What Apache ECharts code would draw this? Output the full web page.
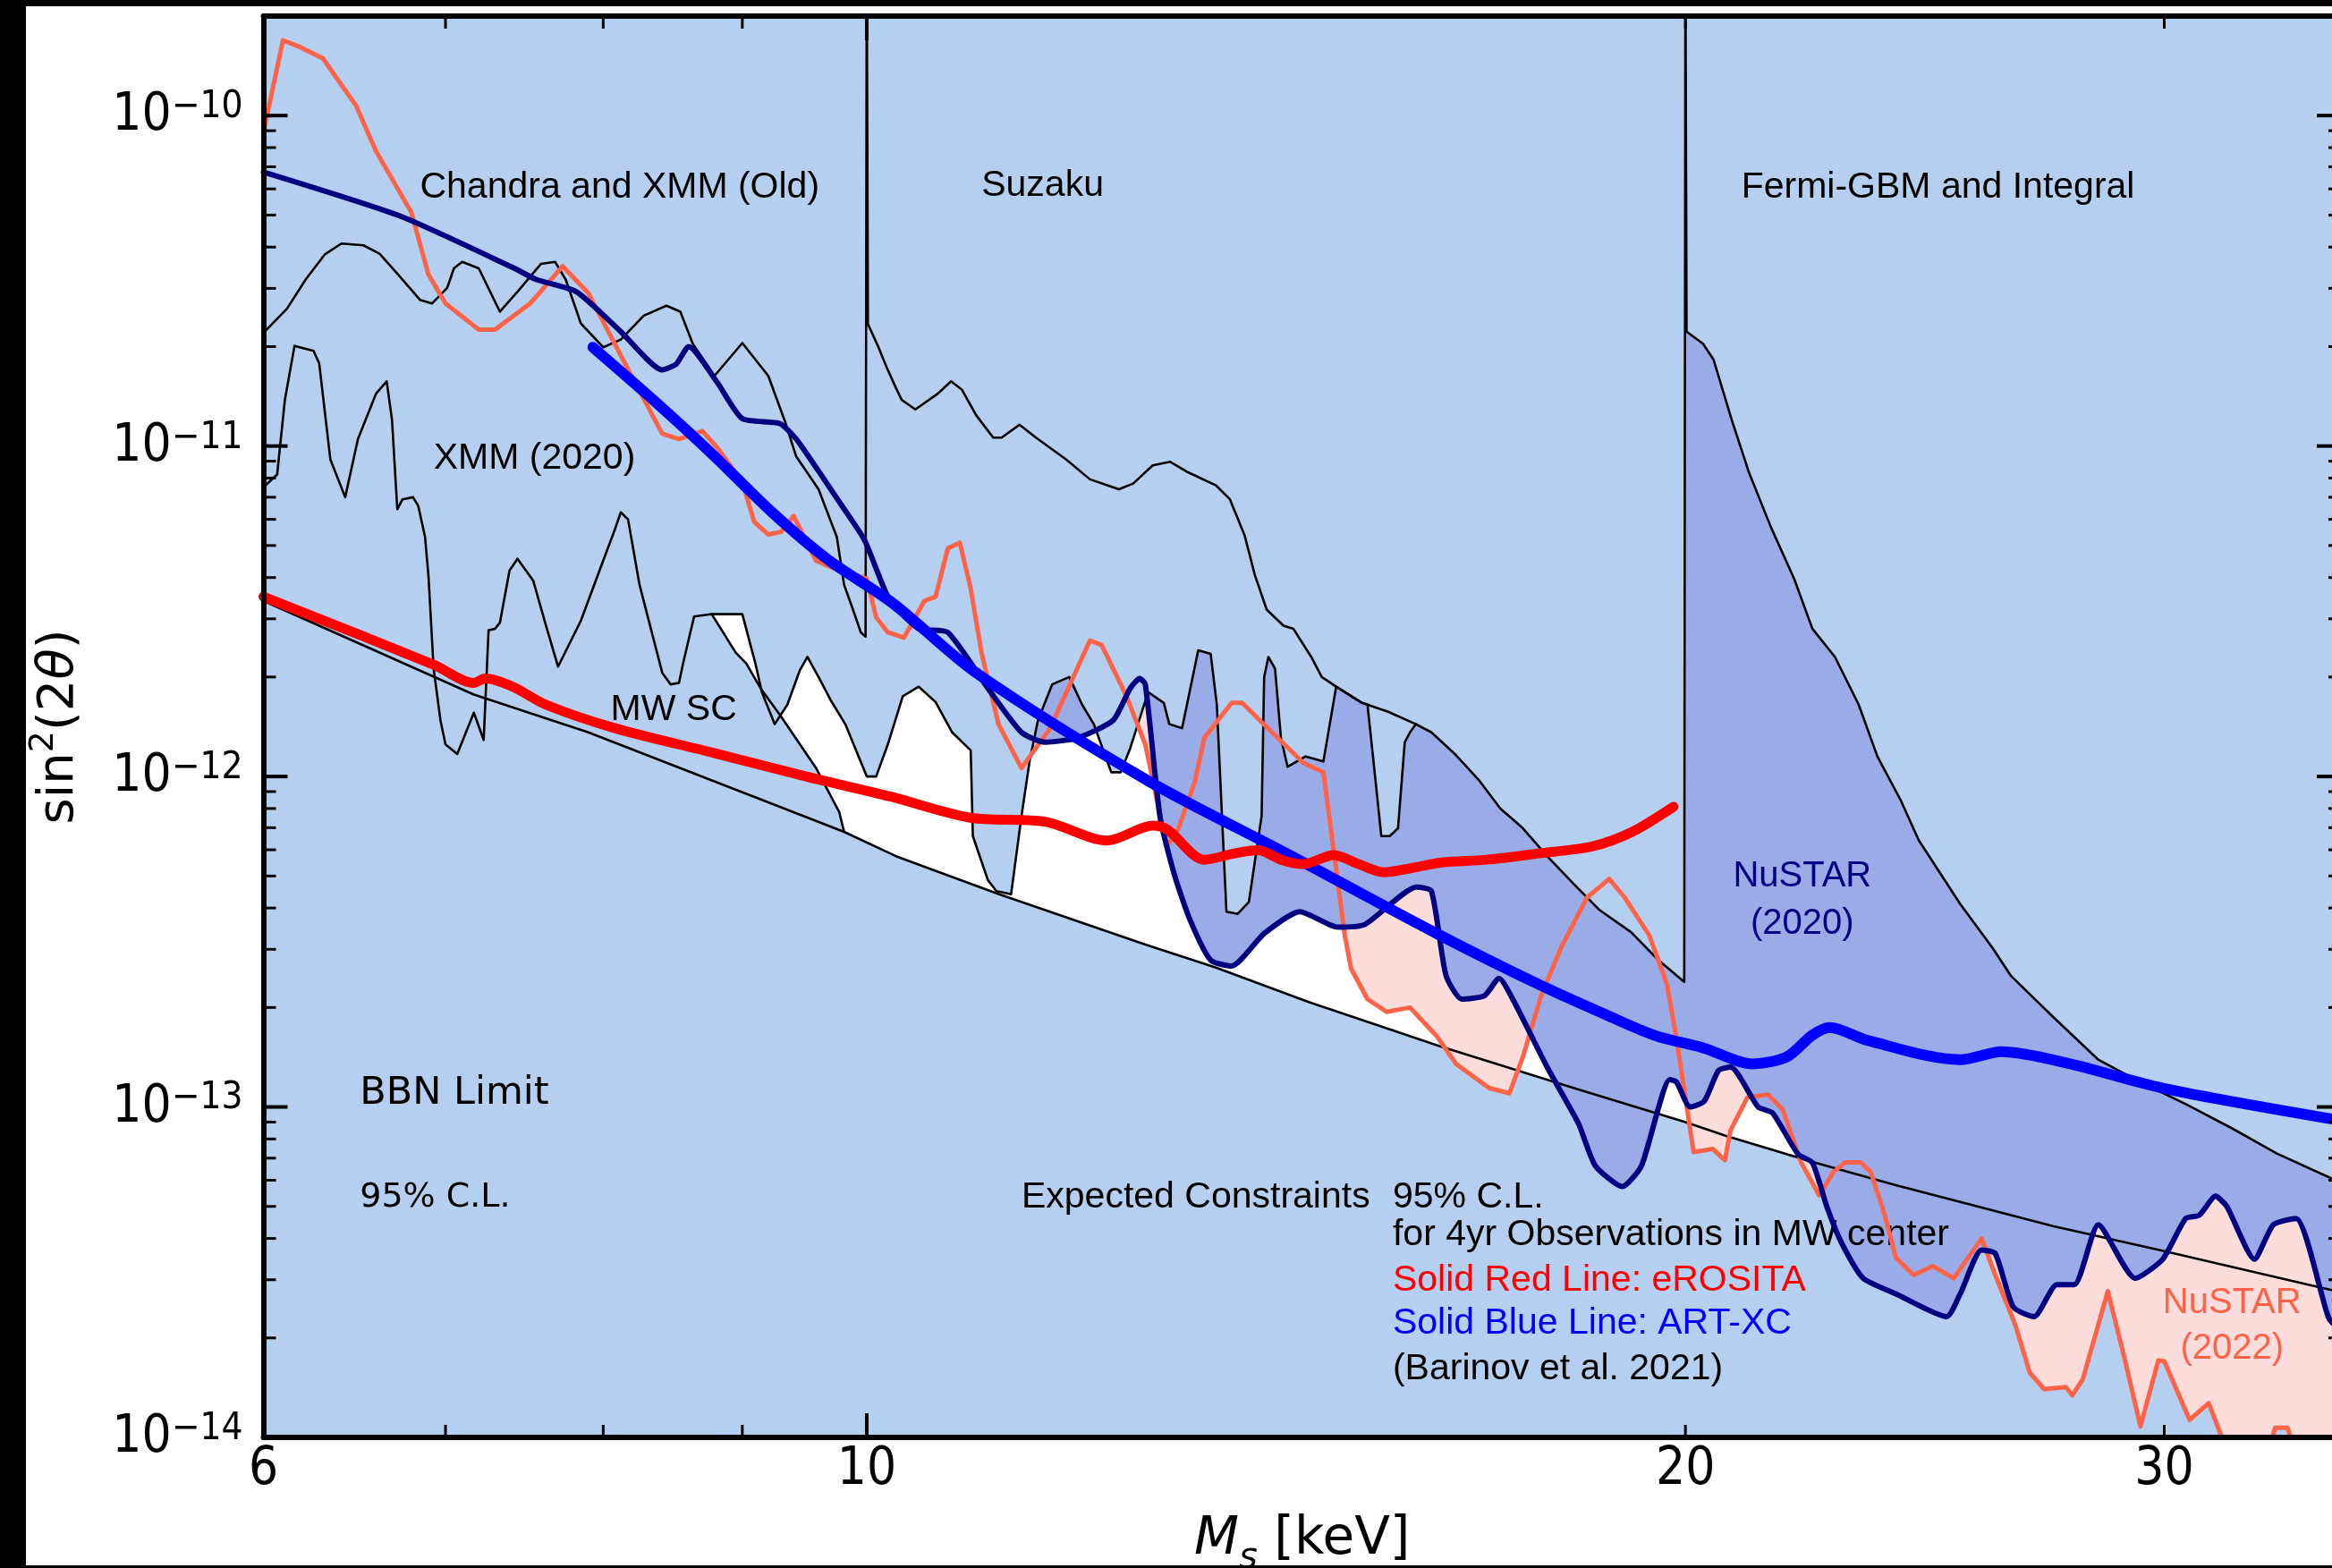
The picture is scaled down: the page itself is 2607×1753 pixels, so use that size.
<!DOCTYPE html>
<html>
<head>
<meta charset="utf-8">
<script src="https://cdn.jsdelivr.net/npm/echarts@6/dist/echarts.min.js"></script>
<style>
html, body { margin:0; padding:0; width:2607px; height:1753px; overflow:hidden; background:#fff; }
#chart { position:absolute; left:0; top:0; width:2640px; height:1753px; }
</style>
</head>
<body>
<div id="chart"></div>
<script>
// ---------------- axis ranges ----------------
const X_MIN = 6, X_MAX = 34.84, Y_MIN = 1e-14, Y_MAX = 2e-10;

// ---------------- data (M_s in keV, sin^2(2theta)) ----------------
const bbnLimit = [[6,3.4e-12],[7.17,1.77e-12],[7.9,1.36e-12],[8.78,9.7e-13],[9.81,6.8e-13],[10.25,5.74e-13],[11.18,4.41e-13],[12.66,3.1e-13],[13.44,2.64e-13],[14.53,2.08e-13],[16.23,1.53e-13],[18.2,1.14e-13],[20,9.0e-14],[20.68,8.2e-14],[22.3,6.8e-14],[23.9,5.8e-14],[27.3,4.36e-14],[30,3.66e-14],[34.84,2.75e-14]];

const mwSatelliteCounts = [[8.77,3.1e-12],[8.95,2.37e-12],[9.03,2.2e-12],[9.14,1.85e-12],[9.3,1.52e-12],[9.58,1.06e-12],[9.77,7.8e-13],[9.81,6.8e-13]];

const xmm2020 = [[6,7.5e-12],[6.07,8.2e-12],[6.11,1.38e-11],[6.16,2.01e-11],[6.26,1.94e-11],[6.29,1.78e-11],[6.35,9.1e-12],[6.43,7.0e-12],[6.5,1.05e-11],[6.6,1.44e-11],[6.66,1.57e-11],[6.69,1.2e-11],[6.72,6.44e-12],[6.75,6.9e-12],[6.81,7.0e-12],[6.84,6.6e-12],[6.88,5.3e-12],[6.9,4.03e-12],[6.93,2.12e-12],[6.97,1.48e-12],[7.0,1.25e-12],[7.07,1.17e-12],[7.17,1.56e-12],[7.23,1.29e-12],[7.26,2.77e-12],[7.3,2.8e-12],[7.33,2.92e-12],[7.39,4.2e-12],[7.44,4.56e-12],[7.54,3.91e-12],[7.62,2.88e-12],[7.7,2.15e-12],[7.85,2.96e-12],[8.0,4.5e-12],[8.08,5.6e-12],[8.12,6.3e-12],[8.17,6.0e-12],[8.25,3.8e-12],[8.41,2.06e-12],[8.47,1.9e-12],[8.53,1.92e-12],[8.56,2.2e-12],[8.64,3.05e-12],[8.77,3.1e-12],[9.0,3.1e-12],[9.1,2.2e-12],[9.15,1.8e-12],[9.25,1.44e-12],[9.35,1.65e-12],[9.45,2.1e-12],[9.51,2.3e-12],[9.6,2.0e-12],[9.7,1.7e-12],[9.82,1.44e-12],[10.0,1.0e-12],[10.08,1.0e-12],[10.18,1.25e-12],[10.31,1.75e-12],[10.45,1.87e-12],[10.6,1.68e-12],[10.75,1.36e-12],[10.92,1.2e-12],[10.94,6.6e-13],[11.08,4.86e-13],[11.16,4.5e-13],[11.3,4.4e-13],[11.4,7.6e-13],[11.48,1.12e-12],[11.56,1.48e-12],[11.7,1.9e-12],[11.87,2.0e-12],[12.0,1.65e-12],[12.12,1.44e-12],[12.3,1.03e-12],[12.4,1.03e-12],[12.5,1.22e-12],[12.69,1.8e-12],[12.86,1.67e-12],[12.92,1.44e-12],[13.06,1.4e-12],[13.24,2.41e-12],[13.38,2.35e-12],[13.45,1.65e-12],[13.56,3.9e-13],[13.69,3.84e-13],[13.82,4.17e-13],[13.97,7.6e-13],[14.0,2.0e-12],[14.05,2.3e-12],[14.13,2.12e-12],[14.2,1.31e-12],[14.28,1.07e-12],[14.5,1.15e-12],[14.72,1.11e-12],[14.88,1.87e-12],[15.21,1.67e-12],[15.28,1.65e-12],[15.39,9.46e-13],[15.46,6.6e-13],[15.57,6.6e-13],[15.68,6.97e-13],[15.77,1.27e-12],[15.84,1.36e-12],[15.92,1.44e-12]];

// Chandra and XMM (Old) | Suzaku | Fermi-GBM and Integral
const oldConstraints = [[6,2.2e-11],[6.12,2.6e-11],[6.22,3.2e-11],[6.32,3.8e-11],[6.41,4.1e-11],[6.53,4.05e-11],[6.62,3.82e-11],[6.73,3.28e-11],[6.85,2.77e-11],[6.92,2.7e-11],[7.01,3.01e-11],[7.05,3.45e-11],[7.1,3.61e-11],[7.2,3.45e-11],[7.33,2.55e-11],[7.44,2.93e-11],[7.59,3.56e-11],[7.68,3.61e-11],[7.75,3.19e-11],[7.85,2.35e-11],[8.0,1.99e-11],[8.12,2.1e-11],[8.28,2.48e-11],[8.44,2.66e-11],[8.54,2.55e-11],[8.63,2.04e-11],[8.79,1.63e-11],[9.0,2.05e-11],[9.2,1.63e-11],[9.33,1.19e-11],[9.42,9.3e-12],[9.6,7.4e-12],[9.75,5.3e-12],[9.81,3.8e-12],[9.88,3.23e-12],[9.95,2.73e-12],[9.99,2.65e-12],[10.0,3e-10],[10.01,2.34e-11],[10.1,1.99e-11],[10.17,1.73e-11],[10.25,1.5e-11],[10.3,1.38e-11],[10.42,1.29e-11],[10.62,1.44e-11],[10.74,1.57e-11],[10.84,1.48e-11],[10.97,1.24e-11],[11.13,1.06e-11],[11.21,1.06e-11],[11.38,1.16e-11],[11.54,1.06e-11],[11.84,9.1e-12],[12.08,7.93e-12],[12.38,7.4e-12],[12.53,7.7e-12],[12.74,8.74e-12],[12.93,8.96e-12],[13.11,8.37e-12],[13.44,7.6e-12],[13.6,6.9e-12],[13.77,5.37e-12],[13.89,4.07e-12],[14.03,3.2e-12],[14.23,2.86e-12],[14.35,2.8e-12],[14.57,2.3e-12],[14.7,2.0e-12],[14.88,1.87e-12],[15.21,1.67e-12],[15.55,1.57e-12],[15.92,1.44e-12],[16.13,1.36e-12],[16.47,1.16e-12],[16.8,9.7e-13],[17.1,8.0e-13],[17.43,6.97e-13],[17.79,5.74e-13],[18.2,4.72e-13],[18.6,3.94e-13],[19.1,3.38e-13],[19.55,2.78e-13],[19.98,2.39e-13],[20.0,3e-10],[20.02,2.22e-11],[20.3,2.04e-11],[20.48,1.83e-11],[20.8,1.2e-11],[21.1,8.37e-12],[21.5,5.69e-12],[21.93,3.96e-12],[22.27,2.8e-12],[22.7,2.3e-12],[23.16,1.65e-12],[23.53,1.15e-12],[24.0,8.47e-13],[24.37,6.41e-13],[25.24,4.11e-13],[25.94,3.03e-13],[26.35,2.49e-13],[27.29,1.88e-13],[28.37,1.39e-13],[29.27,1.21e-13],[30.55,1.02e-13],[31.75,8.64e-14],[33.0,7.23e-14],[34.84,5.9e-14]];

const nustar2020 = [[6,6.75e-11],[6.73,4.98e-11],[7.41,3.47e-11],[7.56,3.19e-11],[7.82,2.93e-11],[8.12,2.22e-11],[8.41,1.70e-11],[8.51,1.77e-11],[8.6,2.0e-11],[8.81,1.56e-11],[9.0,1.21e-11],[9.29,1.17e-11],[9.42,1.05e-11],[9.6,8.4e-12],[9.8,6.53e-12],[9.98,5.2e-12],[10.13,3.84e-12],[10.2,3.4e-12],[10.45,2.8e-12],[10.71,2.73e-12],[11.08,1.85e-12],[11.4,1.36e-12],[11.63,1.27e-12],[11.96,1.31e-12],[12.32,1.48e-12],[12.5,1.85e-12],[12.6,1.98e-12],[12.66,1.9e-12],[12.82,7.5e-13],[12.98,5.0e-13],[13.15,3.67e-13],[13.38,2.78e-13],[13.62,2.67e-13],[14.0,3.35e-13],[14.43,3.9e-13],[14.9,3.5e-13],[15.25,3.57e-13],[15.93,4.63e-13],[16.13,4.5e-13],[16.33,2.5e-13],[16.55,2.12e-13],[16.87,2.17e-13],[17.08,2.45e-13],[17.3,2.08e-13],[17.79,1.32e-13],[18.27,8.9e-14],[18.53,6.64e-14],[18.96,5.74e-14],[19.27,6.64e-14],[19.74,1.21e-13],[19.85,1.19e-13],[20.08,1.0e-13],[20.32,1.04e-13],[20.57,1.29e-13],[20.78,1.32e-13],[21.27,1.0e-13],[21.53,9.6e-14],[22.0,7.2e-14],[22.27,6.78e-14],[22.55,4.96e-14],[22.83,3.87e-14],[23.25,3.03e-14],[23.9,2.72e-14],[24.95,2.32e-14],[25.24,2.72e-14],[25.7,3.69e-14],[26.0,3.6e-14],[26.4,2.48e-14],[26.87,2.32e-14],[27.39,2.9e-14],[27.8,2.9e-14],[28.37,4.4e-14],[29.27,3.03e-14],[29.96,3.46e-14],[30.55,4.6e-14],[30.9,4.7e-14],[31.33,5.37e-14],[31.63,5.0e-14],[32.38,3.46e-14],[32.9,4.4e-14],[33.54,4.6e-14],[34.48,2.3e-14],[34.84,2.1e-14]];

const nustar2022 = [[6,8.9e-11],[6.1,1.69e-10],[6.18,1.62e-10],[6.31,1.49e-10],[6.49,1.07e-10],[6.6,7.8e-11],[6.8,5.1e-11],[6.9,3.3e-11],[7.0,2.7e-11],[7.2,2.25e-11],[7.3,2.25e-11],[7.52,2.7e-11],[7.73,3.5e-11],[7.9,2.9e-11],[8.12,1.88e-11],[8.41,1.09e-11],[8.53,1.05e-11],[8.62,1.08e-11],[8.7,1.11e-11],[8.81,9.9e-12],[9.0,7.8e-12],[9.09,5.9e-12],[9.2,5.4e-12],[9.3,5.5e-12],[9.4,6.14e-12],[9.58,4.5e-12],[9.72,4.27e-12],[10.0,3.97e-12],[10.08,3.03e-12],[10.18,2.73e-12],[10.32,2.63e-12],[10.5,3.4e-12],[10.6,3.5e-12],[10.71,4.9e-12],[10.82,5.1e-12],[10.92,3.7e-12],[11.02,2.37e-12],[11.18,1.44e-12],[11.4,1.06e-12],[11.68,1.4e-12],[12.08,2.58e-12],[12.2,2.5e-12],[12.46,1.75e-12],[12.66,1.25e-12],[12.89,6.12e-13],[13.02,6.97e-13],[13.2,9.6e-13],[13.31,1.31e-12],[13.62,1.67e-12],[13.74,1.67e-12],[14.47,1.1e-12],[14.72,1.03e-12],[14.99,3.3e-13],[15.07,2.62e-13],[15.28,2.12e-13],[15.53,1.94e-13],[15.84,2.0e-13],[16.2,1.64e-13],[16.47,1.35e-13],[16.94,1.14e-13],[17.23,1.1e-13],[17.43,1.42e-13],[17.7,2.17e-13],[18.0,3.03e-13],[18.4,4.3e-13],[18.75,4.9e-13],[19.0,4.3e-13],[19.4,3.3e-13],[19.69,2.35e-13],[19.84,1.65e-13],[20.14,7.3e-14],[20.47,7.46e-14],[20.68,6.9e-14],[20.78,8.5e-14],[21.08,1.07e-13],[21.45,1.09e-13],[21.72,9.8e-14],[22.06,6.78e-14],[22.4,5.4e-14],[22.67,6.35e-14],[22.9,6.8e-14],[23.2,6.8e-14],[23.4,6.35e-14],[23.67,4.75e-14],[23.9,3.5e-14],[24.26,3.1e-14],[24.66,3.3e-14],[25.1,3.03e-14],[25.7,4.0e-14],[26.0,3.1e-14],[26.45,2.18e-14],[26.77,1.57e-14],[27.1,1.4e-14],[27.6,1.42e-14],[27.75,1.34e-14],[28.0,1.5e-14],[28.6,2.77e-14],[29.0,1.75e-14],[29.4,1.08e-14],[29.85,1.71e-14],[30.0,1.7e-14],[30.65,1.13e-14],[31.15,1.27e-14],[31.5,1.0e-14],[31.9,8.5e-15],[32.7,8.5e-15],[32.95,1.07e-14],[33.3,1.07e-14],[33.6,8.5e-15],[34.84,8e-15]];

const erosita = [[6,3.5e-12],[6.93,2.18e-12],[7.17,1.92e-12],[7.24,1.98e-12],[7.41,1.87e-12],[7.62,1.65e-12],[8.08,1.40e-12],[8.78,1.18e-12],[9.5,1.0e-12],[10.2,8.7e-13],[10.92,7.5e-13],[11.63,7.3e-13],[12.26,6.4e-13],[12.74,7.1e-13],[12.9,6.9e-13],[13.31,5.6e-13],[13.65,5.85e-13],[13.93,5.98e-13],[14.2,5.6e-13],[14.47,5.43e-13],[14.85,5.78e-13],[15.17,5.43e-13],[15.49,5.13e-13],[15.89,5.3e-13],[16.29,5.5e-13],[16.9,5.6e-13],[17.66,5.85e-13],[18.49,6.15e-13],[19.12,6.8e-13],[19.8,8.1e-13]];

const artxc = [[7.93,1.99e-11],[8.37,1.35e-11],[8.78,9.4e-12],[9.22,6.35e-12],[9.67,4.55e-12],[10.22,3.35e-12],[10.97,2.06e-12],[12.69,9.7e-13],[14.24,5.9e-13],[16.2,3.35e-13],[17.66,2.35e-13],[18.7,1.9e-13],[19.51,1.64e-13],[20.3,1.51e-13],[21.17,1.35e-13],[21.8,1.42e-13],[22.27,1.65e-13],[22.6,1.74e-13],[23.33,1.59e-13],[25.24,1.39e-13],[26.14,1.47e-13],[27.7,1.35e-13],[29.96,1.14e-13],[34.84,9.1e-14]];

// ---------------- ticks ----------------
const xMinorTicks = [7, 8, 9, 20, 30];
const xMajorTicks = [10];
const xTickLabels = [6, 10, 20, 30];
const yDecades = [1e-14, 1e-13, 1e-12, 1e-11, 1e-10];
const yMinorMantissas = [2, 3, 4, 5, 6, 7, 8, 9];

// ---------------- text annotations (anchored in data coordinates) ----------------
const annotations = [
  {text:'Chandra and XMM (Old)', x:6.85, y:6.04e-11, color:'#000', font:'41px "Liberation Sans"', align:'left'},
  {text:'Suzaku', x:11.02, y:6.12e-11, color:'#000', font:'41px "Liberation Sans"', align:'left'},
  {text:'Fermi-GBM and Integral', x:20.97, y:6.04e-11, color:'#000', font:'41px "Liberation Sans"', align:'left'},
  {text:'XMM (2020)', x:6.93, y:9.15e-12, color:'#000', font:'41px "Liberation Sans"', align:'left'},
  {text:'MW SC', x:8.05, y:1.59e-12, color:'#000', font:'41px "Liberation Sans"', align:'left'},
  {text:'BBN Limit', x:6.51, y:1.095e-13, color:'#000', font:'43px "DejaVu Sans"', align:'left'},
  {text:'95% C.L.', x:6.51, y:5.31e-14, color:'#000', font:'38px "DejaVu Sans"', align:'left'},
  {text:'Expected Constraints', x:11.40, y:5.31e-14, color:'#000', font:'41px "Liberation Sans"', align:'left'},
  {text:'95% C.L.', x:15.61, y:5.31e-14, color:'#000', font:'41px "Liberation Sans"', align:'left'},
  {text:'for 4yr Observations in MW center', x:15.61, y:4.09e-14, color:'#000', font:'41px "Liberation Sans"', align:'left'},
  {text:'Solid Red Line: eROSITA', x:15.61, y:2.99e-14, color:'#ff0000', font:'41px "Liberation Sans"', align:'left'},
  {text:'Solid Blue Line: ART-XC', x:15.61, y:2.21e-14, color:'#0000ff', font:'41px "Liberation Sans"', align:'left'},
  {text:'(Barinov et al. 2021)', x:15.61, y:1.61e-14, color:'#000', font:'41px "Liberation Sans"', align:'left'},
  {text:'NuSTAR', x:22.08, y:4.98e-13, color:'#000080', font:'40px "Liberation Sans"', align:'center'},
  {text:'(2020)', x:22.08, y:3.58e-13, color:'#000080', font:'40px "Liberation Sans"', align:'center'},
  {text:'NuSTAR', x:31.77, y:2.55e-14, color:'#ff6347', font:'40px "Liberation Sans"', align:'center'},
  {text:'(2022)', x:31.77, y:1.85e-14, color:'#ff6347', font:'40px "Liberation Sans"', align:'center'}
];

// ---------------- colours ----------------
const LIGHT = '#b5cff0', DARK = '#9aace8', PINK = '#fddcdc';
const NAVY = '#000080', SALMON = '#ff6347', RED = '#ff0000', BLUE = '#0000ff';
const NAVY_SMOOTH = 0.2, RED_SMOOTH = 0.3, BLUE_SMOOTH = 0.3;

// white (allowed) region: above MW SC limit, then above BBN limit
const mwEnd = mwSatelliteCounts[mwSatelliteCounts.length - 1][0];
const allowedLowerBoundary = mwSatelliteCounts.concat(bbnLimit.filter(p => p[0] > mwEnd));

function fillSeries(name, data, color, origin, z, smooth) {
  return {type:'line', name, data, symbol:'none', showSymbol:false, smooth: smooth || false,
    lineStyle:{width:0, opacity:0}, areaStyle:{color, opacity:1, origin}, z, silent:true, animation:false};
}
function lineSeries(name, data, color, width, z, smooth) {
  return {type:'line', name, data, symbol:'none', showSymbol:false, smooth: smooth || false,
    lineStyle:{color, width, cap:'round', join:'round'}, z, silent:true, animation:false};
}

// tick data: [x, y, kind(0=x,1=y), major]
const tickData = [];
xMinorTicks.forEach(v => tickData.push([v, Y_MIN, 0, 0]));
xMajorTicks.forEach(v => tickData.push([v, Y_MIN, 0, 1]));
yDecades.forEach(d => {
  tickData.push([X_MIN, d, 1, 1]);
  yMinorMantissas.forEach(m => { const v = m * d; if (v < Y_MAX * 0.999) tickData.push([X_MIN, v, 1, 0]); });
});

const tickFont = '"DejaVu Sans"';

const option = {
  animation: false,
  backgroundColor: '#ffffff',
  tooltip: {show:false},
  grid: {left: 294.5, top: 18, width: 2322.5, height: 1589, show: true, backgroundColor: LIGHT,
         borderWidth: 0, containLabel: false, outerBoundsMode: 'none'},
  xAxis: [
    {type:'log', logBase:10, min:X_MIN, max:X_MAX, position:'bottom', z:50,
     axisLine:{show:true, onZero:false, lineStyle:{color:'#000', width:6}},
     axisTick:{show:false}, minorTick:{show:false}, axisLabel:{show:false}, splitLine:{show:false},
     name:'{i|M}{sub|s}{n| [keV]}', nameLocation:'middle', nameGap:86, nameMoveOverlap:false,
     nameTextStyle:{rich:{
       i:{fontFamily:'DejaVu Sans', fontStyle:'italic', fontSize:58, lineHeight:80, verticalAlign:'top', color:'#000'},
       sub:{fontFamily:'DejaVu Sans', fontStyle:'italic', fontSize:40, lineHeight:80, verticalAlign:'top', padding:[30,0,0,0], color:'#000'},
       n:{fontFamily:'DejaVu Sans', fontSize:58, lineHeight:80, verticalAlign:'top', color:'#000'}
     }}},
    {type:'log', logBase:10, min:X_MIN, max:X_MAX, position:'top', z:50,
     axisLine:{show:true, onZero:false, lineStyle:{color:'#000', width:6}},
     axisTick:{show:false}, minorTick:{show:false}, axisLabel:{show:false}, splitLine:{show:false}}
  ],
  yAxis: [
    {type:'log', logBase:10, min:Y_MIN, max:Y_MAX, position:'left', z:50,
     axisLine:{show:true, onZero:false, lineStyle:{color:'#000', width:6}},
     axisTick:{show:false}, minorTick:{show:false}, axisLabel:{show:false}, splitLine:{show:false},
     name:'{n|sin}{p|2}{n|(2}{t|\u03b8}{n|)}', nameLocation:'middle', nameRotate:90, nameGap:200, nameMoveOverlap:false,
     nameTextStyle:{rich:{
       n:{fontFamily:'DejaVu Sans', fontSize:56, lineHeight:64, verticalAlign:'bottom', color:'#000'},
       p:{fontFamily:'DejaVu Sans', fontSize:38, lineHeight:38, verticalAlign:'top', color:'#000'},
       t:{fontFamily:'DejaVu Sans', fontStyle:'italic', fontSize:56, lineHeight:64, verticalAlign:'bottom', color:'#000'}
     }}},
    {type:'log', logBase:10, min:Y_MIN, max:Y_MAX, position:'right', z:50,
     axisLine:{show:true, onZero:false, lineStyle:{color:'#000', width:6}},
     axisTick:{show:false}, minorTick:{show:false}, axisLabel:{show:false}, splitLine:{show:false}}
  ],
  graphic: [
    {type:'rect', shape:{x:0, y:0, width:29, height:1753}, style:{fill:'#000'}, z:100, silent:true},
    {type:'rect', shape:{x:0, y:0, width:2640, height:7}, style:{fill:'#000'}, z:100, silent:true},
    {type:'rect', shape:{x:0, y:1750, width:2640, height:3}, style:{fill:'#000'}, z:100, silent:true}
  ],
  series: [
    fillSeries('allowed', allowedLowerBoundary, '#ffffff', 'end', 1),
    fillSeries('NuSTAR 2022 region', nustar2022, PINK, 'end', 2),
    fillSeries('NuSTAR 2020 region', nustar2020, DARK, 'end', 3, NAVY_SMOOTH),
    fillSeries('XMM 2020 region', xmm2020, LIGHT, 'end', 4),
    fillSeries('Old region', oldConstraints, LIGHT, 'end', 4),
    {type:'custom', name:'annotations', silent:true, z:8, animation:false,
     data: annotations.map(a => [a.x, a.y]),
     renderItem: function (params, api) {
       const a = annotations[params.dataIndex];
       const p = api.coord([api.value(0), api.value(1)]);
       return {type:'text', x:p[0], y:p[1], style:{text:a.text, fill:a.color, font:a.font, align:a.align, verticalAlign:'middle'}};
     }},
    lineSeries('BBN Limit', bbnLimit, '#000', 2.6, 10),
    lineSeries('MW SC', mwSatelliteCounts, '#000', 2.6, 10),
    lineSeries('XMM (2020)', xmm2020, '#000', 2.6, 10),
    lineSeries('Chandra/XMM old, Suzaku, Fermi-GBM/Integral', oldConstraints, '#000', 2.6, 10),
    lineSeries('NuSTAR (2022)', nustar2022, SALMON, 5, 11),
    lineSeries('NuSTAR (2020)', nustar2020, NAVY, 6, 12, NAVY_SMOOTH),
    lineSeries('ART-XC', artxc, BLUE, 12, 13, BLUE_SMOOTH),
    lineSeries('eROSITA', erosita, RED, 11, 14, RED_SMOOTH),
    {type:'custom', name:'ticks', silent:true, z:60, animation:false,
     dimensions:['x','y','kind','major'], encode:{x:0, y:1},
     data: tickData,
     renderItem: function (params, api) {
       const cs = params.coordSys;
       const kind = api.value(2), major = api.value(3);
       const len = major ? 27 : 14;
       const st = {stroke:'#000', lineWidth: major ? 4 : 3};
       if (kind === 0) {
         const px = api.coord([api.value(0), Y_MIN])[0];
         const yb = cs.y + cs.height, yt = cs.y;
         return {type:'group', children:[
           {type:'line', shape:{x1:px, y1:yb, x2:px, y2:yb - len}, style:st},
           {type:'line', shape:{x1:px, y1:yt, x2:px, y2:yt + len}, style:st}
         ]};
       }
       const py = api.coord([X_MIN, api.value(1)])[1];
       const xl = cs.x, xr = cs.x + cs.width;
       return {type:'group', children:[
         {type:'line', shape:{x1:xl, y1:py, x2:xl + len, y2:py}, style:st},
         {type:'line', shape:{x1:xr, y1:py, x2:xr - len, y2:py}, style:st}
       ]};
     }},
    {type:'custom', name:'xTickLabels', silent:true, z:60, animation:false,
     data: xTickLabels.map(v => [v, Y_MIN]),
     renderItem: function (params, api) {
       const cs = params.coordSys;
       const px = api.coord([api.value(0), Y_MIN])[0];
       return {type:'text', x:px, y:cs.y + cs.height + 8, scaleX:0.9,
               style:{text:String(xTickLabels[params.dataIndex]), font:'58px ' + tickFont, fill:'#000', align:'center', verticalAlign:'top'}};
     }},
    {type:'custom', name:'yTickLabels', silent:true, z:60, animation:false,
     data: yDecades.map(d => [X_MIN, d]),
     renderItem: function (params, api) {
       const cs = params.coordSys;
       const v = api.value(1);
       const py = api.coord([X_MIN, v])[1];
       const ex = Math.round(Math.log10(v));
       const expText = (ex < 0 ? '\u2212' + (-ex) : String(ex));
       return {type:'text', x:cs.x - 23, y:py, scaleX:0.9,
               style:{text:'{b|10}{s|' + expText + '}', align:'right', verticalAlign:'middle',
                 rich:{
                   b:{fontFamily:'DejaVu Sans', fontSize:58, lineHeight:60, verticalAlign:'bottom', fill:'#000'},
                   s:{fontFamily:'DejaVu Sans', fontSize:42, lineHeight:42, verticalAlign:'top', fill:'#000'}
                 }}};
     }}
  ]
};

const chart = echarts.init(document.getElementById('chart'), null, {renderer:'canvas'});
chart.setOption(option);
</script>
</body>
</html>
